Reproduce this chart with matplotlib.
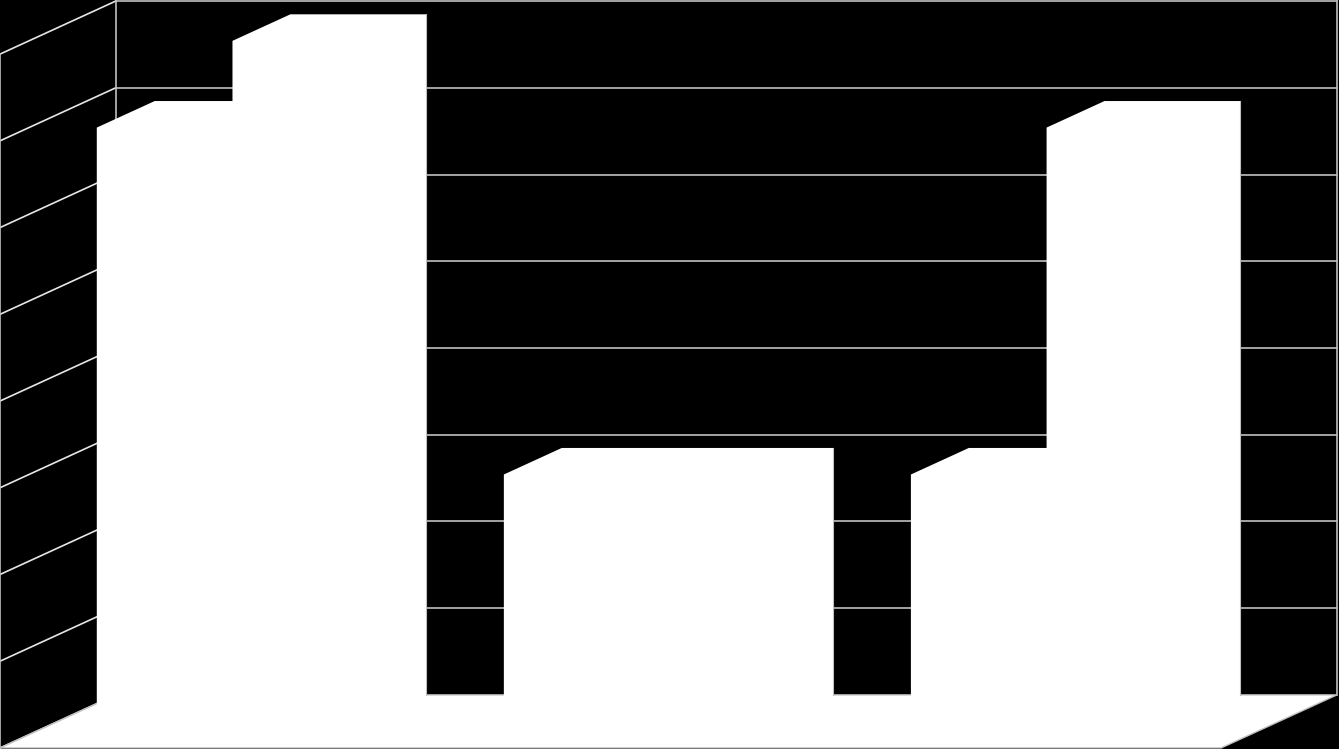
import matplotlib
matplotlib.use("Agg")
import matplotlib.pyplot as plt
from matplotlib.patches import Polygon

# data: three categories, two series
categories = ["1", "2", "3"]
series_a = [7, 3, 3]
series_b = [8, 3, 7]
value_ticks = [0, 1, 2, 3, 4, 5, 6, 7, 8]

# oblique projection: depth 0 = back wall, 1 = front of floor
DX = -0.2845   # shift in category units per unit of depth
DY = -0.612    # shift in value units per unit of depth
BAR_D0, BAR_D1 = 0.25, 0.75
GRID = "#BFBFBF"


def proj(x, d, v):
    return (x + d * DX, v + d * DY)


fig = plt.figure(figsize=(13.39, 7.49), dpi=100)
fig.patch.set_facecolor("black")
ax = fig.add_axes([0, 0, 1, 1])
ax.set_facecolor("black")
ax.axis("off")

n = len(categories)
vmax = value_ticks[-1]

# back wall gridlines
for v in value_ticks[1:]:
    (x0, y0), (x1, y1) = proj(0, 0, v), proj(n, 0, v)
    ax.plot([x0, x1], [y0, y1], color=GRID, lw=1.2, zorder=1)
# side wall lines
for v in value_ticks:
    (x0, y0), (x1, y1) = proj(0, 0, v), proj(0, 1, v)
    ax.plot([x0, x1], [y0, y1], color="#E6E6E6", lw=1.2, zorder=1)
# wall corners
for d in (0, 1):
    (x0, y0), (x1, y1) = proj(0, d, 0), proj(0, d, vmax)
    ax.plot([x0, x1], [y0, y1], color=GRID, lw=1.2, zorder=1)
(x0, y0), (x1, y1) = proj(n, 0, 0), proj(n, 0, vmax)
ax.plot([x0, x1], [y0, y1], color=GRID, lw=1.2, zorder=1)

# floor
floor = Polygon([proj(0, 0, 0), proj(n, 0, 0), proj(n, 1, 0), proj(0, 1, 0)],
                closed=True, facecolor="white", edgecolor=GRID, lw=1.0, zorder=2)
ax.add_patch(floor)

# bars: one outline per box (front + top + right side), all white
width = 1 / 3
for i in range(n):
    for k, vals in enumerate([series_a, series_b]):
        x0 = i + 1 / 6 + k * width
        x1 = x0 + width
        v = vals[i]
        z = 3 + i * 2 + k
        outline = [(x0, BAR_D1, 0), (x1, BAR_D1, 0), (x1, BAR_D0, 0),
                   (x1, BAR_D0, v), (x0, BAR_D0, v), (x0, BAR_D1, v)]
        ax.add_patch(Polygon([proj(*p) for p in outline], closed=True,
                             facecolor="white", edgecolor="none", zorder=z))
        # thin gray line on the side face's back edge, above the floor
        (sx, sy0), (_, sy1) = proj(x1, BAR_D0, -BAR_D0 * DY), proj(x1, BAR_D0, v)
        ax.plot([sx, sx], [sy0, sy1], color=GRID, lw=0.8, zorder=z)

ax.set_xlim(DX, n + 0.005)
ax.set_ylim(DY - 0.012, vmax + 0.012)

plt.savefig("out.png", dpi=100, facecolor="black")
